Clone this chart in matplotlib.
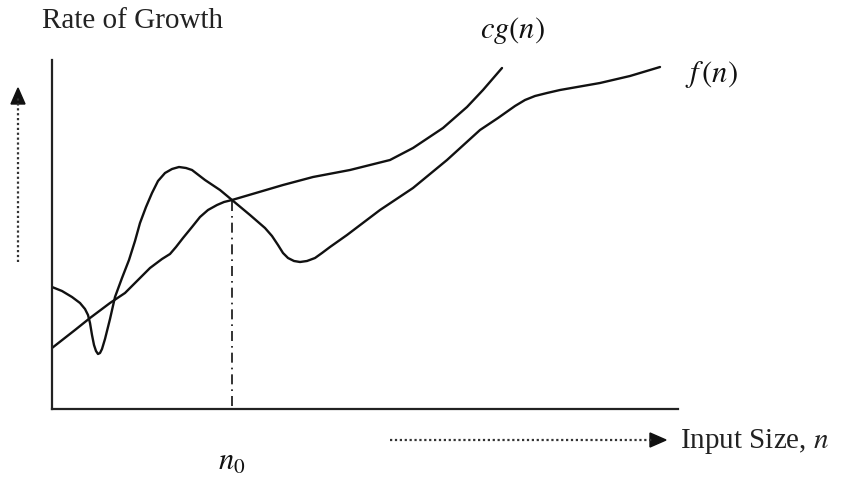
import matplotlib
matplotlib.use("Agg")
import matplotlib.pyplot as plt
from matplotlib.lines import Line2D

plt.rcParams['font.family'] = ['Liberation Serif', 'DejaVu Serif']
plt.rcParams['mathtext.fontset'] = 'stix'

# Data (x: input size, y: rate of growth)
f_x = [0, 10, 20, 28, 33, 36, 38, 40, 42, 44, 46, 48, 50, 53, 58, 63, 70, 77, 83, 88,
       94, 100, 106, 113, 120, 127, 134, 140, 153, 168, 180, 198, 213, 220, 226, 231,
       236, 242, 248, 255, 263, 270, 278, 295, 328, 361, 395, 428, 446, 463, 473, 483,
       495, 508, 548, 578, 608]
f_y = [122, 118, 112, 106, 100, 94, 86, 74, 64, 58, 55, 56, 60, 70, 90, 112, 131, 149, 168, 186,
       202, 216, 228, 236, 240, 242, 241, 239, 229, 219, 209, 194, 181, 173, 164, 156,
       151, 148, 147, 148, 151, 156, 162, 174, 199, 221, 249, 279, 291, 303, 309, 313,
       316, 319, 326, 333, 342]

cg_x = [0, 23, 38, 58, 73, 85, 98, 110, 118, 124, 131, 140, 148, 156, 165, 172, 180,
        231, 261, 298, 338, 361, 391, 415, 431, 450]
cg_y = [61, 79, 91, 106, 116, 128, 141, 150, 155, 162, 171, 182, 192, 199, 204, 207, 209,
        224, 232, 239, 249, 261, 281, 302, 319, 341]

n0 = 180
n0_y = 209

W, H = 866, 478
fig = plt.figure(figsize=(W / 100, H / 100), dpi=100)
ax = fig.add_axes([52 / W, (H - 409) / H, (678 - 52) / W, (409 - 60) / H])
ax.set_xlim(0, 626)
ax.set_ylim(0, 349)
for s in ['top', 'right']:
    ax.spines[s].set_visible(False)
for s in ['left', 'bottom']:
    ax.spines[s].set_linewidth(1.6)
    ax.spines[s].set_color('#222222')
ax.set_xticks([])
ax.set_yticks([])

ax.plot(f_x, f_y, color='#111111', lw=1.7, solid_joinstyle='round', solid_capstyle='round')
ax.plot(cg_x, cg_y, color='#111111', lw=1.7, solid_joinstyle='round', solid_capstyle='round')
ax.plot([n0, n0], [3, n0_y], color='#111111', lw=1.2, linestyle=(0, (6, 3, 1, 3)))

# dotted arrows (figure pixel coords, origin top-left converted)
def fp(x, y):
    return (x / W, (H - y) / H)

x0, y0 = fp(18, 262)
x1, y1 = fp(18, 98)
fig.add_artist(Line2D([x0, x1], [y0, y1], transform=fig.transFigure,
                      color='#333333', lw=1.6, linestyle=(0, (1, 1.2))))
fig.add_artist(plt.Polygon([fp(11, 104), fp(25, 104), fp(18, 88)], closed=True,
                           transform=fig.transFigure, color='#111111'))

x0, y0 = fp(390, 440)
x1, y1 = fp(652, 440)
fig.add_artist(Line2D([x0, x1], [y0, y1], transform=fig.transFigure,
                      color='#333333', lw=1.6, linestyle=(0, (1, 1.2))))
fig.add_artist(plt.Polygon([fp(650, 433), fp(650, 447), fp(666, 440)], closed=True,
                           transform=fig.transFigure, color='#111111'))

# texts
fig.text(42 / W, (H - 21) / H, "Rate of Growth", fontsize=21, va='center', ha='left', color='#222222')
fig.text(480 / W, (H - 31) / H, r"$cg(n)$", fontsize=22, va='center', ha='left', color='#111111')
fig.text(685 / W, (H - 75) / H, r"$f\,(n)$", fontsize=22, va='center', ha='left', color='#111111')
fig.text(232 / W, (H - 462) / H, r"$n_0$", fontsize=22, va='center', ha='center', color='#111111')
fig.text(680 / W, (H - 441) / H, r"Input Size, $n$", fontsize=21, va='center', ha='left', color='#222222')

fig.savefig("out.png", dpi=100, facecolor='white')
